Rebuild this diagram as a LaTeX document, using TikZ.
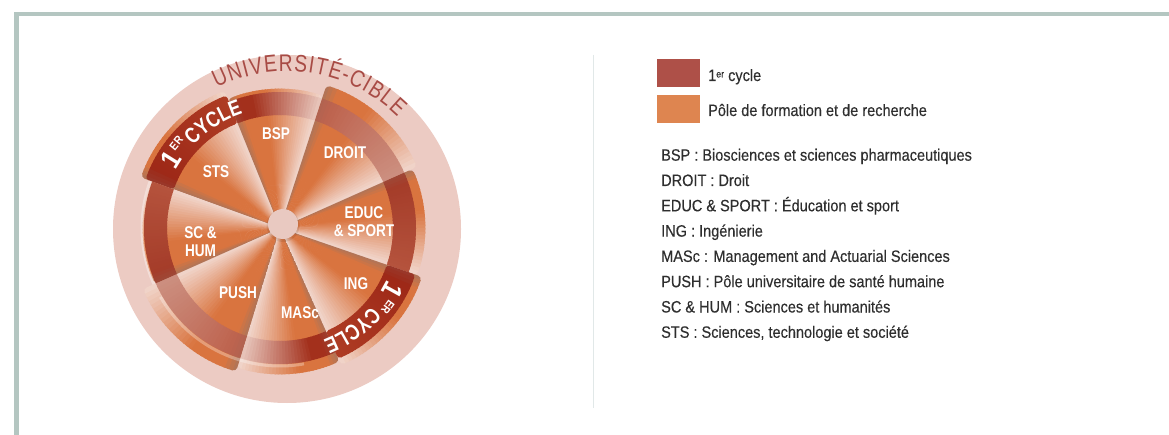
\documentclass[tikz,border=0pt]{standalone}
\usepackage{fontspec}
\setmainfont{Liberation Sans}[FakeStretch=0.88]
\newfontfamily\condfont{Liberation Sans}[FakeStretch=0.8]
\newfontfamily\legfont{Liberation Sans}[FakeStretch=0.88,FakeBold=0.25]
\usetikzlibrary{decorations.text}
\definecolor{framec}{HTML}{B4C6C1}
\definecolor{dividerc}{HTML}{E1E8E8}
\definecolor{diskc}{HTML}{ECCBC3}
\definecolor{orng}{HTML}{D9743F}
\definecolor{lightw}{HTML}{F1D6CC}
\definecolor{shad}{HTML}{8F746B}
\definecolor{rdkA}{HTML}{9C2616}
\definecolor{rdkB}{HTML}{AE3C24}
\definecolor{rbsA}{HTML}{A3301C}
\definecolor{rbsB}{HTML}{E8C6BC}
\definecolor{rmvA}{HTML}{BC5E48}
\definecolor{rmvB}{HTML}{CC8F80}
\definecolor{rmdA}{HTML}{A33A27}
\definecolor{rmdB}{HTML}{B5533D}
\definecolor{hubc}{HTML}{E9C9C1}
\definecolor{univc}{HTML}{A84B45}
\definecolor{legred}{HTML}{AE5048}
\definecolor{legor}{HTML}{DE8550}
\definecolor{txtc}{HTML}{2E2E2E}

% #1 cw angle, #2 ccw angle, #3 inner r, #4 outer r, #5 ccw colour, #6 cw colour,
% #7 ramp start, #8 corner radius, #9 shadow strength
\newcommand\sweep[9]{%
  \begin{scope}
    \clip[rounded corners=#8] (#2:#4) arc[start angle=#2,end angle=#1,radius=#4]
      -- (#1:#3) arc[start angle=#1,end angle=#2,radius=#3] -- cycle;
    \foreach \k in {0,...,29}{%
      \pgfmathsetmacro\angA{#2-(#2-#1)*\k/30+0.3}%
      \pgfmathsetmacro\angB{#2-(#2-#1)*(\k+1)/30-0.3}%
      \pgfmathsetmacro\tq{(\k+0.5)/30}%
      \pgfmathsetmacro\mixL{\tq<#7 ? 0 : 100*((\tq-#7)/(1-#7))}%
      \pgfmathsetmacro\mixS{\tq<0.12 ? #9*(1-\tq/0.12) : 0}%
      \colorlet{slc}{#6!\mixL!#5}%
      \colorlet{slc}{shad!\mixS!slc}%
      \fill[slc] (0,0) -- (\angA:200) -- (\angB:200) -- cycle;
    }%
  \end{scope}}

\begin{document}
\begin{tikzpicture}[x=1pt,y=1pt,
  lbl/.style={text=white,font=\condfont\bfseries\fontsize{17}{17.5}\selectfont,align=center,inner sep=0pt},
  ringtxt/.style={text=white,inner sep=0pt},
  legsq/.style={minimum width=43pt,minimum height=28pt,inner sep=0pt,draw=none},
  legt/.style={text=txtc,font=\legfont\fontsize{16.5}{18}\selectfont,inner sep=0pt,anchor=base west}]
\useasboundingbox (0,0) rectangle (1169,434);
\fill[white] (0,0) rectangle (1169,434);

% frame
\draw[framec,line width=4.5pt] (16.5,-10) -- (16.5,420) -- (1180,420);
% divider
\coordinate (dtop) at (593.5,379);
\coordinate (dbot) at (593.5,26);
\draw[dividerc,line width=1.5pt] (dtop) -- (dbot);

% wheel
\begin{scope}[shift={(280,206)}]
  \fill[diskc] (7,-1) circle[radius=174];
  % poles (panels)
  \sweep{112}{160}{8}{148}{orng}{lightw}{0.4}{4pt}{60}
  \sweep{72}{112}{8}{139}{orng}{lightw}{0.4}{4pt}{60}
  \sweep{24}{72}{8}{150}{orng}{lightw}{0.4}{4pt}{60}
  \sweep{-19}{24}{8}{145}{orng}{lightw}{0.4}{4pt}{60}
  \sweep{-66}{-19}{8}{150}{orng}{lightw}{0.4}{4pt}{60}
  \sweep{-107}{-66}{8}{146}{orng}{lightw}{0.4}{4pt}{60}
  \sweep{-156}{-107}{8}{150}{orng}{lightw}{0.4}{4pt}{60}
  \sweep{160}{204}{8}{137}{orng}{lightw}{0.4}{4pt}{60}
  % 1er cycle ring
  \sweep{112}{160}{113}{143}{rdkA}{rdkB}{0}{3pt}{25}
  \sweep{72}{112}{113}{136}{rbsA}{rbsB}{0.25}{0pt}{25}
  \sweep{24}{72}{113}{136}{rmvA}{rmvB}{0}{0pt}{25}
  \sweep{-19}{24}{113}{136}{rmdA}{rmdB}{0}{0pt}{25}
  \sweep{-66}{-19}{113}{143}{rdkA}{rdkB}{0}{3pt}{25}
  \sweep{-107}{-66}{113}{136}{rbsA}{rbsB}{0.25}{0pt}{25}
  \sweep{-156}{-107}{113}{136}{rmvA}{rmvB}{0}{0pt}{25}
  \sweep{160}{204}{113}{136}{rmdA}{rmdB}{0}{0pt}{25}
  % light rim outside the ring
  \draw[white,opacity=0.35,line width=3pt] (204:138) arc[start angle=204,end angle=160,radius=138];
  \draw[white,opacity=0.3,line width=3pt] (-80:138) arc[start angle=-80,end angle=-150,radius=138];
  % hub
  \fill[black,opacity=0.08] (3,2.5) circle[radius=16.5];
  \node[circle,fill=hubc,minimum size=30pt,inner sep=0pt] (hub) at (3,4) {};

  % pole labels
  \node[lbl] (bsp) at (-4,94) {BSP};
  \node[lbl] (droit) at (65,75) {DROIT};
  \node[lbl] (educ) at (84,6.5) {EDUC\\\& SPORT};
  \node[lbl] (ing) at (76,-56) {ING};
  \node[lbl] (masc) at (20,-85) {MASc};
  \node[lbl] (push) at (-42,-65) {PUSH};
  \node[lbl] (schum) at (-79.5,-13.5) {SC \&\\HUM};
  \node[lbl] (sts) at (-64,56) {STS};

  % 1er cycle texts
  \node[ringtxt,font=\bfseries\fontsize{28}{28}\selectfont,rotate=58] (oneA) at (148:129) {1};
  \node[ringtxt,font=\bfseries\fontsize{11.5}{11.5}\selectfont,rotate=50.7] (erA) at (140.7:134) {ER};
  \path[decorate,decoration={text along path,text color=white,text align=left,
     text={|\condfont\bfseries\fontsize{22}{22}\selectfont|CYCLE}}]
     (136.5:120) arc[start angle=136.5,end angle=95,radius=120];
  \node[ringtxt,font=\bfseries\fontsize{28}{28}\selectfont,rotate=-119] (oneB) at (-29:129) {1};
  \node[ringtxt,font=\bfseries\fontsize{11.5}{11.5}\selectfont,rotate=-126.3] (erB) at (-36.3:134) {ER};
  \path[decorate,decoration={text along path,text color=white,text align=left,
     text={|\condfont\bfseries\fontsize{22}{22}\selectfont|CYCLE}}]
     (-40.5:120) arc[start angle=-40.5,end angle=-84,radius=120];

  % université-cible
  \begin{scope}[shift={(7,-1)}]
    \path[decorate,decoration={text along path,text color=univc,text align=fit to path,
       text={|\condfont\fontsize{24}{24}\selectfont|UNIVERSITÉ-CIBLE}}]
       (116.5:157.5) arc[start angle=116.5,end angle=45.5,radius=157.5];
  \end{scope}
\end{scope}

% legend
\node[legsq,fill=legred] (sqA) at (678.5,361) {};
\node[legsq,fill=legor] (sqB) at (678.5,324.5) {};
\node[legt] (tA) at (708,353) {1\raisebox{3.5pt}{\fontsize{10}{10}\selectfont er} cycle};
\node[legt] (tB) at (708,318) {Pôle de formation et de recherche};

\node[legt] (l1) at (661,273.3) {BSP : Biosciences et sciences pharmaceutiques};
\node[legt] (l2) at (661,248.0) {DROIT : Droit};
\node[legt] (l3) at (661,222.7) {EDUC \& SPORT : Éducation et sport};
\node[legt] (l4) at (661,197.4) {ING : Ingénierie};
\node[legt] (l5) at (661,172.1) {MASc : Management and Actuarial Sciences};
\node[legt] (l6) at (661,146.8) {PUSH : Pôle universitaire de santé humaine};
\node[legt] (l7) at (661,121.5) {SC \& HUM : Sciences et humanités};
\node[legt] (l8) at (661,96.2) {STS : Sciences, technologie et société};
\end{tikzpicture}
\end{document}
